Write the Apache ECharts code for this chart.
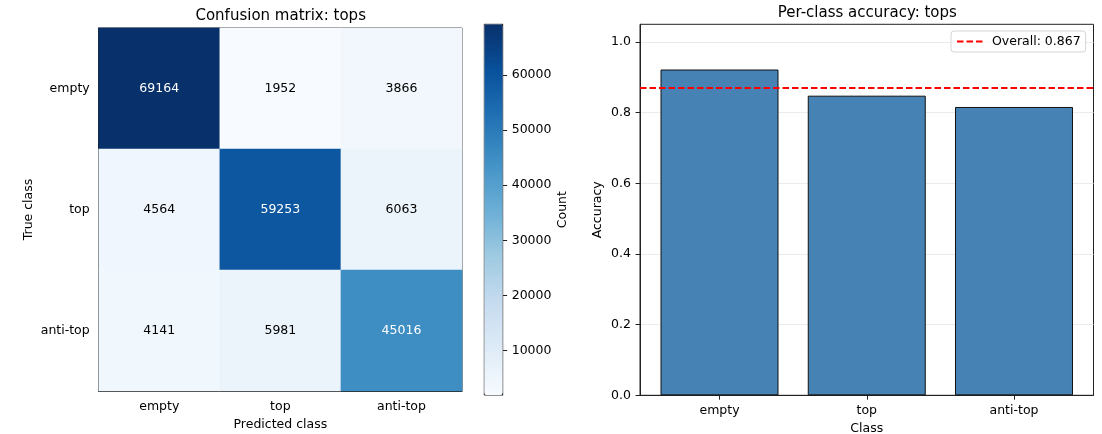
<!DOCTYPE html>
<html>
<head>
<meta charset="utf-8">
<script src="https://cdn.jsdelivr.net/npm/echarts@6/dist/echarts.min.js"></script>
<style>
html,body{margin:0;padding:0;background:#fff;}
#chart{width:1102px;height:434px;}
</style>
</head>
<body>
<div id="chart"></div>
<script>
// ---- data ----
const classes = ['empty', 'top', 'anti-top'];
const rowEmpty = [69164, 1952, 3866];
const rowTop = [4564, 59253, 6063];
const rowAntiTop = [4141, 5981, 45016];
const accuracy = [0.922, 0.848, 0.816];
const overall = 0.867;
const countTicks = [10000, 20000, 30000, 40000, 50000, 60000];
const accTicks = [0, 0.2, 0.4, 0.6, 0.8, 1.0];
const blues = ['#f7fbff','#deebf7','#c6dbef','#9ecae1','#6baed6','#4292c6','#2171b5','#08519c','#08306b'];

// ---- build ----
const rows = [rowEmpty, rowTop, rowAntiTop];
const allVals = rows.flat();
const vMin = Math.min(...allVals);
const vMax = Math.max(...allVals);
const thresh = vMax / 2;
const heatData = [];
rows.forEach((r, yi) => r.forEach((v, xi) => {
  heatData.push({ value: [xi, yi, v], label: { color: v > thresh ? '#ffffff' : '#000000' } });
}));
const barData = accuracy.map((a, i) => [i, a]);

const FONT = 'DejaVu Sans';
const FS = 12.5;
const txt = { fontFamily: FONT, fontSize: FS, color: '#000' };
const frame = '#222';

const chart = echarts.init(document.getElementById('chart'), null, { renderer: 'canvas' });
chart.setOption({
  animation: false,
  backgroundColor: '#fff',
  textStyle: { fontFamily: FONT },
  title: [
    { text: 'Confusion matrix: tops', left: 280.7, top: 9, padding: 0, textAlign: 'center',
      textStyle: { fontFamily: FONT, fontSize: 15, fontWeight: 'normal', color: '#000' } },
    { text: 'Per-class accuracy: tops', left: 867.3, top: 5.5, padding: 0, textAlign: 'center',
      textStyle: { fontFamily: FONT, fontSize: 15, fontWeight: 'normal', color: '#000' } }
  ],
  legend: {
    data: ['Overall: ' + overall.toFixed(3)],
    left: 951, top: 31,
    orient: 'vertical',
    padding: [4, 5, 4, 5],
    itemWidth: 26, itemHeight: 14,
    itemStyle: { opacity: 0 },
    backgroundColor: 'rgba(255,255,255,0.8)',
    borderColor: '#d4d4d4', borderWidth: 1, borderRadius: 3,
    textStyle: { fontFamily: FONT, fontSize: FS, color: '#000', padding: [0, 0, 0, 4] }
  },
  visualMap: {
    type: 'continuous',
    min: vMin, max: vMax,
    seriesIndex: 0,
    calculable: false,
    orient: 'vertical',
    left: 484.3, top: 24.3,
    itemWidth: 18.4, itemHeight: 370.7,
    padding: 0,
    text: null,
    hoverLink: false,
    inRange: { color: blues }
  },
  grid: [
    { left: 98.7, top: 28, width: 363.3, height: 363, show: true, borderColor: frame, borderWidth: 1, backgroundColor: 'transparent', outerBoundsMode: 'none', containLabel: false },
    { left: 640, top: 24.3, width: 453.5, height: 371, show: true, borderColor: frame, borderWidth: 1, backgroundColor: 'transparent', outerBoundsMode: 'none', containLabel: false },
    { left: 484.3, top: 24.3, width: 18.4, height: 370.7, show: true, borderColor: frame, borderWidth: 1, backgroundColor: 'transparent', outerBoundsMode: 'none', containLabel: false }
  ],
  xAxis: [
    { type: 'category', gridIndex: 0, data: classes,
      name: 'Predicted class', nameLocation: 'middle', nameGap: 25, nameTextStyle: txt,
      axisLine: { onZero: false, lineStyle: { color: frame } },
      axisTick: { alignWithLabel: true, length: 4.4, lineStyle: { color: frame } },
      axisLabel: Object.assign({ margin: 9 }, txt),
      splitLine: { show: false }, splitArea: { show: false } },
    { type: 'value', gridIndex: 1, min: -0.54, max: 2.54,
      name: 'Class', nameLocation: 'middle', nameGap: 25, nameTextStyle: txt,
      axisLine: { onZero: false, lineStyle: { color: frame } },
      axisTick: { length: 4.4, lineStyle: { color: frame }, customValues: [0, 1, 2] },
      axisLabel: Object.assign({ margin: 9, customValues: [0, 1, 2], formatter: v => classes[Math.round(v)] }, txt),
      splitLine: { show: false } },
    { type: 'value', gridIndex: 2, show: false, min: 0, max: 1 }
  ],
  yAxis: [
    { type: 'category', gridIndex: 0, data: classes, inverse: true,
      name: 'True class', nameLocation: 'middle', nameGap: 63, nameTextStyle: txt,
      axisLine: { onZero: false, lineStyle: { color: frame } },
      axisTick: { alignWithLabel: true, length: 4.4, lineStyle: { color: frame } },
      axisLabel: Object.assign({ margin: 9 }, txt),
      splitLine: { show: false }, splitArea: { show: false } },
    { type: 'value', gridIndex: 1, min: 0, max: 1.05,
      name: 'Accuracy', nameLocation: 'middle', nameGap: 36, nameTextStyle: txt,
      axisLine: { show: true, onZero: false, lineStyle: { color: frame } },
      axisTick: { show: true, length: 4.4, lineStyle: { color: frame }, customValues: accTicks },
      axisLabel: Object.assign({ margin: 9, customValues: accTicks, formatter: v => v.toFixed(1) }, txt),
      splitLine: { show: true, lineStyle: { color: '#ebebeb', width: 1 } } },
    { type: 'value', gridIndex: 2, position: 'right', min: vMin, max: vMax,
      name: 'Count', nameLocation: 'middle', nameGap: 54, nameTextStyle: txt,
      axisLine: { show: true, onZero: false, lineStyle: { color: frame } },
      axisTick: { show: true, length: 4.4, lineStyle: { color: frame }, customValues: countTicks },
      axisLabel: Object.assign({ margin: 9, customValues: countTicks, formatter: v => String(v) }, txt),
      splitLine: { show: false } }
  ],
  series: [
    { type: 'heatmap', xAxisIndex: 0, yAxisIndex: 0, data: heatData,
      label: { show: true, fontFamily: FONT, fontSize: FS, formatter: p => String(p.value[2]) },
      itemStyle: { borderWidth: 0 },
      emphasis: { disabled: true } },
    { type: 'bar', xAxisIndex: 1, yAxisIndex: 1, data: barData, barWidth: 118,
      itemStyle: { color: '#4682b4', borderColor: '#111', borderWidth: 1 },
      emphasis: { disabled: true } },
    { type: 'line', name: 'Overall: ' + overall.toFixed(3), xAxisIndex: 1, yAxisIndex: 1, data: [],
      symbol: 'none', showSymbol: false,
      lineStyle: { color: '#ff0000', type: [6.5, 3], width: 1.9 },
      itemStyle: { color: '#ff0000' },
      markLine: { silent: true, symbol: ['none', 'none'], label: { show: false },
        lineStyle: { color: '#ff0000', type: [6.5, 3], width: 1.9 },
        data: [{ yAxis: overall }] } }
  ]
});
</script>
</body>
</html>
